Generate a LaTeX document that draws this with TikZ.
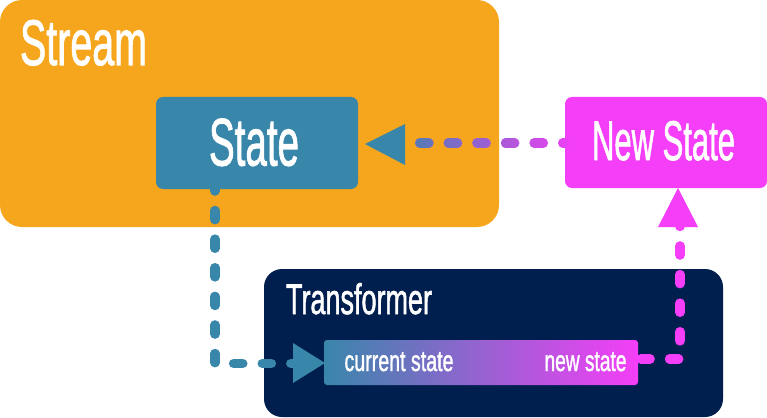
\documentclass[tikz,border=0pt]{standalone}
\usepackage{graphicx}
\usepackage{fontspec}
\setmainfont[FakeBold=1.6]{Liberation Sans}
\usetikzlibrary{calc,fadings}
\definecolor{orangeC}{HTML}{F6A61C}
\definecolor{blueC}{HTML}{3986AB}
\definecolor{magentaC}{HTML}{F53EF7}
\definecolor{navyC}{HTML}{001E4E}
\tikzfading[name=leftsolid, left color=transparent!0, right color=transparent!100]
\newcommand{\fitted}[3]{\resizebox{#1pt}{#2pt}{#3}}
\tikzset{
  panel/.style={inner sep=0pt, outer sep=0pt, anchor=north west},
  label text/.style={inner sep=0pt, outer sep=0pt, anchor=base west, text=white},
  dashline/.style={line width=9.4pt, line cap=round, line join=round, dash pattern=on 9.2pt off 19.4pt},
}
\begin{document}
\begin{tikzpicture}[x=1pt,y=-1pt]
\useasboundingbox (0,0) rectangle (767,417);
% panels
\node[panel, fill=orangeC, rounded corners=22pt, minimum width=499pt, minimum height=227pt] (stream) at (0,0) {};
\node[panel, fill=navyC, rounded corners=18pt, minimum width=459pt, minimum height=148pt] (transformer) at (264,269) {};

% named connector end points
\coordinate (stateleave) at (215,189);
\coordinate (statecorner) at (215,363.5);
\coordinate (innerin) at (299,363.5);
\coordinate (outcorner) at (680,359);
\coordinate (newarrive) at (680,222);
\coordinate (statearrive) at (419.7,143);

% boxes
\node[panel, fill=magentaC, rounded corners=7pt, minimum width=202pt, minimum height=91pt] (newstate) at (565,97) {};
\node[panel, left color=blueC, right color=magentaC, rounded corners=3pt, minimum width=314pt, minimum height=45pt] (inner) at (324,340) {};

% connectors
\draw[dashline, blueC, dash phase=7.1pt] (stateleave) -- (statecorner) -- (innerin);
\draw[dashline, magentaC, dash phase=25.7pt] (inner.east |- outcorner) -- (outcorner) -- (newarrive);
\draw[dashline, magentaC] (statearrive) -- (newstate.west |- statearrive);
\draw[dashline, blueC, path fading=leftsolid, fit fading=false, fading transform={shift={(481.5,143)},xscale=3.86}] (statearrive) -- (newstate.west |- statearrive);

\node[panel, fill=blueC, rounded corners=7pt, minimum width=202pt, minimum height=92pt] (state) at (156,97) {};

% arrowheads
\fill[blueC] (365,144) -- (405,124) -- (405,165) -- cycle;
\fill[magentaC] (678,188) -- (658,227) -- (698,227) -- cycle;
\fill[blueC] (325,363) -- (293,343) -- (293,383) -- cycle;

% labels
\node[label text] (streamlabel) at (20,65) {\fitted{127}{45}{Stream}};
\node[label text] (statelabel) at (209,165.5) {\fitted{90}{47}{State}};
\node[label text] (newstatelabel) at (592,160) {\fitted{143}{39}{New State}};
\node[label text] (transformerlabel) at (286,314) {\fitted{146}{31}{Transformer}};
\node[label text] (currentlabel) at (344.5,371) {\fitted{109}{19}{current state}};
\node[label text] (newlabel) at (544.5,371) {\fitted{82}{19}{new state}};
\end{tikzpicture}
\end{document}
